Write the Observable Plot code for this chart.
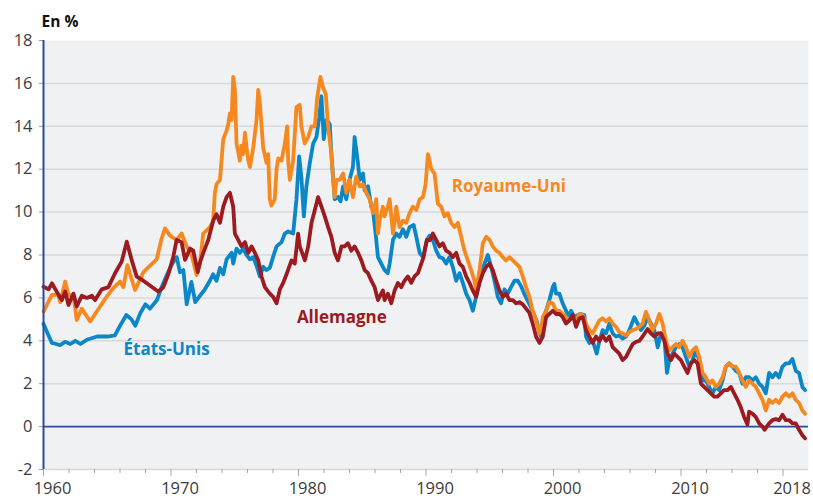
<!DOCTYPE html>
<html><head><meta charset="utf-8">
<script src="https://cdn.jsdelivr.net/npm/d3@7"></script>
<script src="https://cdn.jsdelivr.net/npm/@observablehq/plot@0.6"></script>
<style>
body{margin:0;background:#fff;}
#chart{width:813px;height:498px;}
</style>
</head><body><div id="chart"></div>
<script>
// Taux d'intérêt à 10 ans, en % — [année décimale, valeur]
const etatsUnis = [[1960.0,4.8],[1960.25,4.45],[1960.66,3.9],[1961.0,3.85],[1961.3,3.8],[1961.7,3.95],[1962.1,3.85],[1962.5,4.0],[1962.9,3.85],[1963.4,4.05],[1964.2,4.2],[1965.0,4.2],[1965.6,4.25],[1966.0,4.7],[1966.5,5.2],[1966.9,5.0],[1967.2,4.7],[1967.6,5.3],[1968.0,5.7],[1968.35,5.5],[1968.9,5.9],[1969.2,6.4],[1969.7,7.1],[1970.1,7.6],[1970.45,7.9],[1970.7,7.2],[1970.97,7.3],[1971.23,5.7],[1971.6,6.75],[1971.9,5.8],[1972.27,6.1],[1972.66,6.4],[1973.05,6.8],[1973.3,7.1],[1973.57,6.8],[1973.84,7.4],[1974.1,7.1],[1974.36,7.8],[1974.75,8.1],[1974.88,7.6],[1975.14,8.3],[1975.4,8.1],[1975.66,8.3],[1975.93,8.0],[1976.19,7.8],[1976.45,7.9],[1976.71,7.5],[1976.97,7.0],[1977.23,7.45],[1977.49,7.3],[1977.75,7.4],[1978.0,7.9],[1978.28,8.4],[1978.67,8.6],[1978.93,9.0],[1979.19,9.1],[1979.58,9.0],[1979.84,10.6],[1980.05,12.6],[1980.23,11.6],[1980.42,9.8],[1980.62,11.2],[1980.89,12.3],[1981.15,13.2],[1981.41,13.5],[1981.62,14.4],[1981.8,15.4],[1981.98,13.4],[1982.19,14.3],[1982.45,14.1],[1982.58,12.7],[1982.84,10.6],[1983.1,10.7],[1983.3,10.5],[1983.5,11.2],[1983.75,10.6],[1984.0,11.5],[1984.27,12.1],[1984.4,13.5],[1984.66,12.3],[1984.8,11.5],[1985.06,11.8],[1985.19,11.0],[1985.45,11.2],[1985.71,10.25],[1985.84,10.1],[1986.1,8.7],[1986.23,7.9],[1986.49,7.6],[1986.75,7.3],[1987.0,7.15],[1987.15,7.6],[1987.41,8.7],[1987.67,9.0],[1987.93,8.85],[1988.19,9.2],[1988.45,8.85],[1988.71,9.3],[1989.03,9.4],[1989.24,8.85],[1989.5,8.1],[1989.76,7.9],[1990.07,8.7],[1990.28,8.9],[1990.54,8.7],[1990.8,8.2],[1991.06,7.9],[1991.32,7.85],[1991.58,7.6],[1991.84,7.9],[1992.1,7.45],[1992.37,6.8],[1992.63,7.15],[1992.89,6.7],[1993.15,6.2],[1993.41,5.9],[1993.67,5.4],[1993.93,6.05],[1994.2,6.8],[1994.59,7.6],[1994.85,8.0],[1995.11,7.45],[1995.37,6.8],[1995.63,6.05],[1995.89,5.75],[1996.15,6.4],[1996.41,6.2],[1996.67,6.5],[1996.94,6.8],[1997.2,6.8],[1997.45,6.55],[1997.7,6.2],[1997.95,5.9],[1998.2,5.6],[1998.45,5.25],[1998.7,4.9],[1998.9,4.35],[1999.03,4.2],[1999.16,4.95],[1999.42,5.4],[1999.68,5.9],[1999.94,6.5],[2000.07,6.65],[2000.2,6.2],[2000.46,6.2],[2000.72,5.75],[2000.98,5.4],[2001.25,5.1],[2001.38,5.4],[2001.64,5.1],[2001.9,5.2],[2002.16,5.25],[2002.42,5.2],[2002.55,4.2],[2002.81,3.9],[2003.07,4.0],[2003.39,3.4],[2003.6,4.0],[2003.86,4.5],[2004.12,4.35],[2004.38,4.8],[2004.64,4.35],[2004.9,4.2],[2005.16,4.25],[2005.42,4.1],[2005.69,4.2],[2005.95,4.5],[2006.34,5.1],[2006.6,4.8],[2006.86,4.5],[2007.12,4.7],[2007.38,5.1],[2007.64,4.8],[2007.9,4.5],[2008.17,3.7],[2008.43,4.35],[2008.69,4.2],[2008.9,2.5],[2009.08,3.1],[2009.34,3.4],[2009.6,3.7],[2009.86,3.85],[2010.12,3.7],[2010.38,3.25],[2010.65,2.8],[2010.91,3.1],[2011.17,3.55],[2011.43,3.1],[2011.69,2.15],[2011.95,2.15],[2012.21,1.85],[2012.47,1.55],[2012.73,1.85],[2012.99,1.7],[2013.26,2.15],[2013.52,2.8],[2013.78,2.95],[2014.04,2.8],[2014.3,2.6],[2014.56,2.5],[2014.82,2.0],[2015.08,2.3],[2015.34,2.3],[2015.6,2.15],[2015.87,2.3],[2016.13,2.0],[2016.39,1.85],[2016.65,1.55],[2016.91,2.5],[2017.17,2.3],[2017.43,2.5],[2017.69,2.3],[2017.96,2.8],[2018.22,2.95],[2018.48,2.95],[2018.74,3.15],[2019.0,2.6],[2019.26,2.5],[2019.52,1.85],[2019.73,1.7]];

const royaumeUni = [[1960.0,5.36],[1960.66,6.14],[1961.18,6.14],[1961.31,5.8],[1961.7,6.76],[1961.96,6.14],[1962.35,6.1],[1962.61,4.97],[1963.0,5.5],[1963.66,4.9],[1964.44,5.6],[1964.96,6.06],[1965.48,6.46],[1966.0,6.76],[1966.27,6.5],[1966.58,7.53],[1967.18,6.37],[1967.84,7.2],[1968.36,7.5],[1968.88,7.8],[1969.27,8.78],[1969.53,9.24],[1969.92,8.9],[1970.44,8.7],[1970.83,9.0],[1971.23,8.39],[1971.62,8.0],[1972.01,7.07],[1972.27,7.6],[1972.53,9.0],[1973.05,9.3],[1973.31,9.6],[1973.44,10.9],[1973.57,11.3],[1973.84,11.5],[1974.1,13.4],[1974.36,13.8],[1974.49,14.1],[1974.62,14.6],[1974.75,14.3],[1974.88,16.3],[1975.01,15.7],[1975.14,13.2],[1975.4,12.4],[1975.53,13.1],[1975.66,12.7],[1975.8,13.7],[1975.93,13.0],[1976.06,12.4],[1976.19,12.1],[1976.45,13.0],[1976.71,14.3],[1976.84,15.7],[1976.97,15.1],[1977.23,13.0],[1977.49,12.3],[1977.62,12.7],[1977.75,10.6],[1977.88,10.3],[1978.14,10.6],[1978.28,12.0],[1978.41,12.5],[1978.67,12.4],[1978.93,13.2],[1979.11,14.0],[1979.19,12.4],[1979.32,11.5],[1979.58,12.4],[1979.84,14.9],[1980.1,15.0],[1980.23,14.0],[1980.49,13.2],[1980.76,13.5],[1981.02,14.0],[1981.28,14.0],[1981.46,15.3],[1981.72,16.3],[1981.93,15.8],[1982.14,15.5],[1982.32,14.0],[1982.58,12.7],[1982.71,11.5],[1982.84,10.7],[1982.97,11.5],[1983.23,11.5],[1983.5,11.8],[1983.75,10.9],[1984.0,11.5],[1984.27,10.7],[1984.53,11.65],[1984.8,11.2],[1985.06,11.3],[1985.32,10.9],[1985.58,10.6],[1985.84,9.95],[1986.1,10.6],[1986.23,9.0],[1986.36,9.6],[1986.62,10.25],[1986.75,9.8],[1987.01,10.25],[1987.15,10.6],[1987.41,9.0],[1987.54,9.5],[1987.67,10.25],[1987.93,9.3],[1988.19,9.6],[1988.45,9.5],[1988.71,9.95],[1988.97,10.25],[1989.24,10.1],[1989.5,10.6],[1989.76,10.7],[1989.97,11.3],[1990.15,12.7],[1990.28,12.4],[1990.41,12.0],[1990.67,11.8],[1990.93,10.4],[1991.19,10.25],[1991.45,9.8],[1991.71,9.95],[1991.97,9.5],[1992.24,9.3],[1992.5,9.5],[1992.76,8.85],[1993.02,8.2],[1993.28,7.75],[1993.54,7.3],[1993.8,6.8],[1993.93,6.4],[1994.2,7.3],[1994.46,8.55],[1994.72,8.85],[1994.98,8.7],[1995.24,8.4],[1995.5,8.2],[1995.76,8.1],[1996.02,7.9],[1996.28,7.75],[1996.55,7.9],[1996.81,7.75],[1997.07,7.6],[1997.33,7.45],[1997.59,7.0],[1997.85,6.5],[1998.11,6.05],[1998.37,5.4],[1998.63,4.95],[1998.9,4.35],[1999.03,4.5],[1999.16,5.1],[1999.42,5.4],[1999.68,5.8],[1999.94,5.75],[2000.2,5.4],[2000.46,5.4],[2000.72,5.25],[2000.98,5.1],[2001.25,4.95],[2001.51,5.1],[2001.77,4.95],[2002.03,5.25],[2002.29,5.2],[2002.55,4.8],[2002.81,4.5],[2003.07,4.35],[2003.33,4.65],[2003.6,4.95],[2003.86,5.05],[2004.12,4.9],[2004.38,5.05],[2004.64,4.8],[2004.9,4.65],[2005.16,4.4],[2005.42,4.35],[2005.69,4.25],[2005.95,4.4],[2006.21,4.5],[2006.47,4.55],[2006.73,4.65],[2006.99,4.8],[2007.25,5.35],[2007.51,4.95],[2007.77,4.5],[2008.04,4.8],[2008.3,5.25],[2008.56,4.8],[2008.82,4.0],[2009.08,3.55],[2009.34,3.7],[2009.6,3.85],[2009.86,3.7],[2010.12,4.0],[2010.38,3.7],[2010.65,3.25],[2010.91,3.55],[2011.17,3.7],[2011.43,3.25],[2011.69,2.5],[2011.95,2.3],[2012.21,2.0],[2012.47,2.15],[2012.73,1.85],[2012.99,2.0],[2013.26,2.3],[2013.52,2.8],[2013.78,2.95],[2014.04,2.8],[2014.3,2.8],[2014.56,2.5],[2014.82,2.15],[2015.08,1.85],[2015.34,2.15],[2015.6,2.0],[2015.87,1.85],[2016.13,1.55],[2016.39,1.25],[2016.65,0.75],[2016.91,1.25],[2017.17,1.1],[2017.43,1.25],[2017.69,1.1],[2017.96,1.4],[2018.22,1.55],[2018.48,1.4],[2018.74,1.55],[2019.0,1.25],[2019.26,1.1],[2019.52,0.75],[2019.73,0.6]];

const allemagne = [[1960.0,6.52],[1960.4,6.4],[1960.66,6.68],[1961.18,6.14],[1961.44,5.9],[1961.7,6.3],[1961.96,5.67],[1962.35,6.2],[1962.61,5.6],[1963.0,6.1],[1963.4,6.0],[1963.79,6.1],[1964.05,5.9],[1964.57,6.4],[1965.09,6.5],[1965.61,7.15],[1966.13,7.69],[1966.53,8.62],[1966.92,7.76],[1967.31,6.99],[1967.83,6.8],[1968.48,6.52],[1969.0,6.3],[1969.4,6.5],[1969.79,7.1],[1970.18,7.92],[1970.44,8.7],[1970.83,8.6],[1971.1,7.77],[1971.49,8.3],[1971.75,8.2],[1972.1,7.2],[1972.3,7.7],[1972.53,8.1],[1972.92,8.7],[1973.31,9.6],[1973.57,9.9],[1973.84,9.5],[1974.1,10.25],[1974.36,10.7],[1974.62,10.9],[1974.88,10.25],[1975.01,9.0],[1975.27,8.7],[1975.53,8.4],[1975.8,8.6],[1976.06,8.1],[1976.32,8.4],[1976.58,8.1],[1976.84,7.75],[1977.1,7.0],[1977.36,6.5],[1977.75,6.2],[1978.01,6.05],[1978.28,5.75],[1978.54,6.4],[1978.8,6.7],[1979.06,7.1],[1979.45,7.75],[1979.71,7.6],[1979.97,9.0],[1980.1,8.4],[1980.5,7.75],[1980.76,8.4],[1981.02,9.5],[1981.28,10.1],[1981.54,10.7],[1981.8,10.25],[1982.06,9.8],[1982.32,9.3],[1982.58,8.85],[1982.84,8.1],[1983.1,7.75],[1983.37,8.4],[1983.62,8.4],[1983.88,8.55],[1984.14,8.2],[1984.4,8.4],[1984.67,8.1],[1984.93,7.75],[1985.19,7.3],[1985.45,7.15],[1985.71,6.8],[1985.97,6.5],[1986.23,5.9],[1986.36,6.05],[1986.62,6.35],[1986.75,5.9],[1987.01,6.2],[1987.28,5.75],[1987.54,6.35],[1987.8,6.7],[1988.06,6.5],[1988.32,6.8],[1988.58,7.0],[1988.84,6.7],[1989.1,7.0],[1989.37,7.15],[1989.63,7.6],[1989.81,7.9],[1990.07,8.7],[1990.33,8.7],[1990.54,9.0],[1990.8,8.7],[1991.06,8.4],[1991.32,8.55],[1991.58,8.2],[1991.85,8.1],[1992.11,7.9],[1992.37,8.1],[1992.63,7.6],[1992.89,7.45],[1993.15,7.0],[1993.41,6.7],[1993.67,6.35],[1993.93,6.05],[1994.2,6.7],[1994.46,7.15],[1994.72,7.45],[1994.98,7.6],[1995.24,7.3],[1995.5,6.8],[1995.76,6.35],[1996.02,6.05],[1996.28,6.2],[1996.55,5.9],[1996.81,5.9],[1997.07,5.75],[1997.33,5.8],[1997.59,5.7],[1997.85,5.5],[1998.11,5.3],[1998.37,4.8],[1998.63,4.2],[1998.9,3.9],[1999.16,4.2],[1999.42,5.1],[1999.68,5.25],[1999.94,5.4],[2000.2,5.25],[2000.46,5.25],[2000.72,5.1],[2000.98,4.8],[2001.25,4.95],[2001.51,5.2],[2001.77,4.65],[2002.03,5.05],[2002.29,5.1],[2002.55,4.5],[2002.81,4.2],[2003.07,3.9],[2003.33,4.2],[2003.6,4.0],[2003.86,4.25],[2004.12,4.0],[2004.38,4.2],[2004.64,3.7],[2004.9,3.55],[2005.16,3.4],[2005.42,3.1],[2005.69,3.25],[2005.95,3.55],[2006.21,3.85],[2006.47,3.95],[2006.73,4.0],[2006.99,4.2],[2007.38,4.55],[2007.64,4.35],[2007.9,4.2],[2008.17,4.35],[2008.43,4.35],[2008.69,4.0],[2008.95,3.4],[2009.21,3.1],[2009.47,3.4],[2009.73,3.25],[2009.99,3.1],[2010.25,2.8],[2010.51,2.5],[2010.77,2.95],[2011.04,3.1],[2011.3,2.95],[2011.56,2.0],[2011.82,1.85],[2012.08,1.7],[2012.34,1.55],[2012.6,1.4],[2012.86,1.4],[2013.12,1.55],[2013.38,1.7],[2013.65,1.7],[2013.91,1.85],[2014.17,1.55],[2014.43,1.25],[2014.69,0.9],[2014.95,0.45],[2015.21,0.1],[2015.34,0.7],[2015.6,0.6],[2015.86,0.45],[2016.13,0.15],[2016.39,0.0],[2016.55,-0.15],[2016.91,0.15],[2017.17,0.3],[2017.43,0.35],[2017.69,0.3],[2017.96,0.55],[2018.22,0.3],[2018.48,0.3],[2018.74,0.15],[2019.0,0.15],[2019.26,-0.15],[2019.52,-0.4],[2019.73,-0.55]];

const seriesNames = ["États-Unis", "Royaume-Uni", "Allemagne"];
const seriesColors = ["#0b87c7", "#f5891f", "#9b1b20"];
const yTicks = [-2, 0, 2, 4, 6, 8, 10, 12, 14, 16, 18];
const xMajorTicks = [1960, 1970, 1980, 1990, 2000, 2010, 2018];
const xMinorTicks = [1962,1964,1966,1968,1972,1974,1976,1978,1982,1984,1986,1988,1992,1994,1996,1998,2002,2004,2006,2008,2012,2014,2016];
const seriesLabels = [
  {name: "États-Unis", x: 1969.65, y: 3.57},
  {name: "Allemagne", x: 1983.4, y: 5.1},
  {name: "Royaume-Uni", x: 1996.5, y: 11.2}
];

const toRows = (arr, pays) => arr.map(([year, value]) => ({year, value, pays}));
const rowsUS = toRows(etatsUnis, seriesNames[0]);
const rowsUK = toRows(royaumeUni, seriesNames[1]);
const rowsDE = toRows(allemagne, seriesNames[2]);

const font = "'Open Sans', 'Noto Sans', sans-serif";
const axisBlue = "#2a4b9b";
const lineW = 3.8;

const chart = Plot.plot({
  width: 813,
  height: 498,
  marginLeft: 43,
  marginRight: 5,
  marginTop: 40,
  marginBottom: 29,
  x: {domain: [1960, 2020]},
  y: {domain: [-2, 18]},
  color: {domain: seriesNames, range: seriesColors},
  style: {fontFamily: font, fontSize: "16.5px", color: "#3c3c3c", background: "transparent"},
  marks: [
    Plot.frame({fill: "#f0f1f3", stroke: null}),
    Plot.ruleY(yTicks.filter(d => d !== 0 && d !== 18), {stroke: "#d8d9db", strokeWidth: 1.5}),
    Plot.axisY(yTicks, {tickSize: 4, tickPadding: 7, tickFormat: d => String(d), stroke: "#9a9a9a", label: null, fontSize: 16.5, fill: "#3c3c3c"}),
    Plot.axisX(xMinorTicks, {tickSize: 4, tickFormat: () => "", stroke: "#a8a8a8", label: null}),
    Plot.axisX(xMajorTicks, {tickSize: 7, tickFormat: () => "", stroke: "#a8a8a8", label: null}),
    Plot.text(xMajorTicks, {x: d => d, y: -2, dy: 19, dx: 9, text: d => String(d), fontSize: 16.5, fill: "#3c3c3c", lineAnchor: "middle"}),
    Plot.ruleY([0], {stroke: axisBlue, strokeWidth: 1.6}),
    Plot.line(rowsUS, {x: "year", y: "value", stroke: "pays", strokeWidth: lineW}),
    Plot.line(rowsUK, {x: "year", y: "value", stroke: "pays", strokeWidth: lineW}),
    Plot.line(rowsDE, {x: "year", y: "value", stroke: "pays", strokeWidth: lineW}),
    Plot.ruleX([1960], {stroke: axisBlue, strokeWidth: 2}),
    Plot.text(seriesLabels, {x: "x", y: "y", text: "name", fill: d => d.name, fontWeight: "bold", fontSize: 17}),
    Plot.text(["En %"], {frameAnchor: "top-left", dx: -2, dy: -25, text: d => d, textAnchor: "start", fontWeight: "bold", fontSize: 15.5, fill: "#111"})
  ]
});
document.getElementById("chart").appendChild(chart);
</script>
</body></html>
